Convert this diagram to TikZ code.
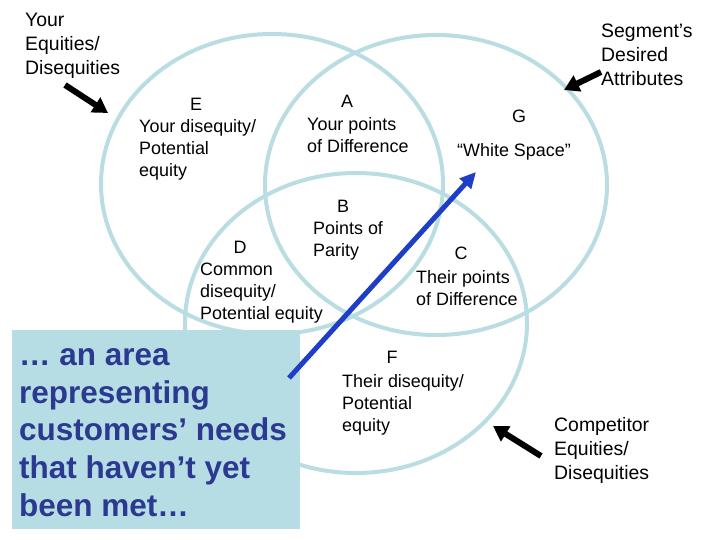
\documentclass[tikz,border=0pt]{standalone}
\usepackage{fontspec}
\setmainfont{Liberation Sans}
\usetikzlibrary{arrows.meta}
\definecolor{ringc}{RGB}{185,221,226}
\definecolor{boxc}{RGB}{183,221,228}
\definecolor{boxtext}{RGB}{43,57,144}
\definecolor{bluearrow}{RGB}{30,62,200}
\tikzset{
  ring/.style={draw=ringc, line width=4bp},
  lbl/.style={font=\fontsize{18}{22}\selectfont, align=left, inner sep=0pt, anchor=north west},
  letter/.style={font=\fontsize{18}{22}\selectfont, inner sep=0pt, anchor=north},
  biglbl/.style={font=\fontsize{19.5}{24}\selectfont, align=left, inner sep=0pt, anchor=north west},
  blackarrow/.style={line width=6bp, -{Triangle[length=15bp,width=17bp]}},
  bluearr/.style={draw=bluearrow, line width=5bp, -{Triangle[length=16bp,width=15bp]}},
  boxtxt/.style={font=\bfseries\fontsize{31.6}{38}\selectfont, text=boxtext, align=left, inner sep=0pt, anchor=north west}
}
\begin{document}
\begin{tikzpicture}[x=1bp,y=-1bp]
\useasboundingbox (0,0) rectangle (720,540);
% rings
\draw[ring] (272,184) ellipse [x radius=171bp, y radius=150bp];
\draw[ring] (436,185) ellipse [x radius=171bp, y radius=150bp];
\draw[ring] (356,323) ellipse [x radius=171bp, y radius=150bp];
% region labels
\node[letter] (Eletter) at (196,98) {E};
\node[lbl] (Etext) at (139,119) {Your disequity/\\Potential\\equity};
\node[letter] (Aletter) at (347,95) {A};
\node[lbl] (Atext) at (307,117) {Your points\\of Difference};
\node[letter] (Gletter) at (519,110) {G};
\node[lbl] (Gtext) at (457,143) {“White Space”};
\node[letter] (Bletter) at (343,200) {B};
\node[lbl] (Btext) at (313,221) {Points of\\Parity};
\node[letter] (Dletter) at (240,241) {D};
\node[lbl] (Dtext) at (200,263) {Common\\disequity/\\Potential equity};
\node[letter] (Cletter) at (461,247) {C};
\node[lbl] (Ctext) at (416,270) {Their points\\of Difference};
\node[letter] (Fletter) at (392,351) {F};
\node[lbl] (Ftext) at (342,374) {Their disequity/\\Potential\\equity};
% outer labels
\node[biglbl] (yours) at (25,13) {Your\\Equities/\\Disequities};
\node[biglbl] (segment) at (601,24) {Segment’s\\Desired\\Attributes};
\node[biglbl] (competitor) at (554,417) {Competitor\\Equities/\\Disequities};
% black arrows
\coordinate (t1) at (65,85);
\coordinate (h1) at (108,113);
\coordinate (t2) at (601,72);
\coordinate (h2) at (564,90);
\coordinate (t3) at (541,456);
\coordinate (h3) at (493,426);
\draw[blackarrow] (t1) -- (h1);
\draw[blackarrow] (t2) -- (h2);
\draw[blackarrow] (t3) -- (h3);
% box
\fill[boxc] (12,330) rectangle (300,529);
\node[boxtxt] (boxtext) at (19,348) {… an area\\representing\\customers’ needs\\that haven’t yet\\been met…};
% blue arrow
\coordinate (bt) at (289,378);
\coordinate (bh) at (476,172);
\draw[bluearr] (bt) -- (bh);
\end{tikzpicture}
\end{document}
